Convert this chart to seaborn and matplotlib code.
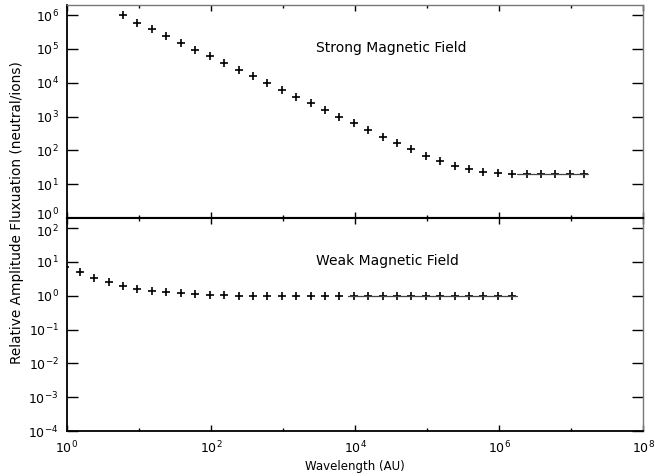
import numpy as np
import matplotlib
matplotlib.use("Agg")
import matplotlib.pyplot as plt
import matplotlib.ticker as mticker
import matplotlib.transforms as mtransforms
import seaborn as sns

# strong magnetic field (top panel)
strong_wl = [6, 9.5, 15, 24, 38, 60, 95, 150, 240, 380, 600, 950,
             1500, 2400, 3800, 6000, 9500, 1.5e4, 2.4e4, 3.8e4, 6e4, 9.5e4,
             1.5e5, 2.4e5, 3.8e5, 6e5, 9.5e5, 1.5e6, 2.4e6, 3.8e6, 6e6, 9.5e6, 1.5e7]
strong_amp = [1e6, 6e5, 3.9e5, 2.45e5, 1.5e5, 9.5e4, 6.2e4, 3.8e4, 2.4e4, 1.55e4,
              9.8e3, 6e3, 3.8e3, 2.45e3, 1.55e3, 9.8e2, 6.3e2, 4e2, 2.5e2, 1.6e2,
              1.07e2, 69, 49, 35, 27.5, 23, 21, 20, 20, 20, 20, 20, 20]
strong_line_wl = [1.75e6, 1.7e7]
strong_line_amp = [20, 20]

# weak magnetic field (bottom panel)
weak_wl = [0.95, 1.5, 2.4, 3.8, 6, 9.5, 15, 24, 38, 60, 95, 150, 240, 380, 600, 950,
           1500, 2400, 3800, 6000, 9500, 1.5e4, 2.4e4, 3.8e4, 6e4, 9.5e4,
           1.5e5, 2.4e5, 3.8e5, 6e5, 9.5e5, 1.5e6]
weak_amp = [7, 4.9, 3.4, 2.5, 1.95, 1.6, 1.4, 1.3, 1.2, 1.12, 1.07, 1.04, 1.02, 1.01,
            1, 1, 1, 1, 1, 1, 1, 1, 1, 1, 1, 1, 1, 1, 1, 1, 1, 1]
weak_line_wl = [8000, 1.75e6]
weak_line_amp = [1, 1]

x_major = [1e0, 1e2, 1e4, 1e6, 1e8]
x_minor = [1e1, 1e3, 1e5, 1e7]

sns.set_style("white")
plt.rcParams['font.family'] = ['DejaVu Sans']
plt.rcParams['mathtext.fontset'] = 'dejavusans'
plt.rcParams['font.size'] = 9
plt.rcParams['text.color'] = 'black'
plt.rcParams['axes.labelcolor'] = 'black'
plt.rcParams['xtick.color'] = 'black'
plt.rcParams['ytick.color'] = 'black'

fig = plt.figure(figsize=(6.55, 4.76), dpi=100)
ax1 = fig.add_axes([0.1023, 0.542, 0.8801, 0.4475])
ax2 = fig.add_axes([0.1023, 0.0945, 0.8801, 0.4475])

panels = [
    (ax1, strong_wl, strong_amp, strong_line_wl, strong_line_amp, (1, 2e6),
     range(0, 7), "Strong Magnetic Field", 1.05e5),
    (ax2, weak_wl, weak_amp, weak_line_wl, weak_line_amp, (1e-4, 2e2),
     range(-4, 3), "Weak Magnetic Field", 10.5),
]

for ax, wl, amp, lwl, lamp, ylim, ydec, title, ty in panels:
    sns.lineplot(x=lwl, y=lamp, color="#444444", linewidth=0.9, ax=ax)
    sns.scatterplot(x=wl, y=amp, marker="+", color="black", s=30,
                    linewidth=1.2, ax=ax)
    ax.set_xscale("log")
    ax.set_yscale("log")
    ax.set_xlim(1, 1e8)
    ax.set_ylim(*ylim)
    ax.xaxis.set_major_locator(mticker.FixedLocator(x_major))
    ax.xaxis.set_minor_locator(mticker.FixedLocator(x_minor))
    ax.xaxis.set_minor_formatter(mticker.NullFormatter())
    ax.yaxis.set_major_locator(mticker.FixedLocator([10.0 ** d for d in ydec]))
    ax.yaxis.set_minor_locator(mticker.NullLocator())
    ax.tick_params(axis="y", which="major", direction="in", length=8, width=1,
                   left=True, right=True, pad=6, labelsize=9)
    ax.tick_params(axis="x", which="major", direction="in", length=4, width=1,
                   top=True, bottom=True, pad=6, labelsize=9)
    ax.tick_params(axis="x", which="minor", direction="in", length=2, width=1,
                   top=True, bottom=True)
    for side in ["left", "bottom"]:
        ax.spines[side].set_color("black")
        ax.spines[side].set_linewidth(1.3)
    for side in ["top", "right"]:
        ax.spines[side].set_color("#777777")
        ax.spines[side].set_linewidth(1.0)
    ax.text(2850, ty, title, fontsize=10, ha="left", va="center")
    ax.set_xlabel("")
    ax.set_ylabel("")

ax1.tick_params(axis="x", labelbottom=False)
ax1.spines["bottom"].set_linewidth(1.5)
ax2.spines["top"].set_color("black")
ax2.spines["top"].set_linewidth(1.5)

# keep 10^0 (top panel) and 10^2 (bottom panel) labels apart at the join
fig.canvas.draw()
ax1.get_yticklabels()[0].set_transform(
    ax1.get_yticklabels()[0].get_transform()
    + mtransforms.ScaledTranslation(0, 3 / 72, fig.dpi_scale_trans))
ax2.get_yticklabels()[-1].set_transform(
    ax2.get_yticklabels()[-1].get_transform()
    + mtransforms.ScaledTranslation(0, -2 / 72, fig.dpi_scale_trans))

ax2.set_xlabel("Wavelength (AU)", fontsize=8.5, labelpad=3)
fig.text(0.026, 0.553, "Relative Amplitude Fluxuation (neutral/ions)",
         rotation=90, ha="center", va="center", fontsize=9.8)

fig.savefig("out.png", dpi=100)
